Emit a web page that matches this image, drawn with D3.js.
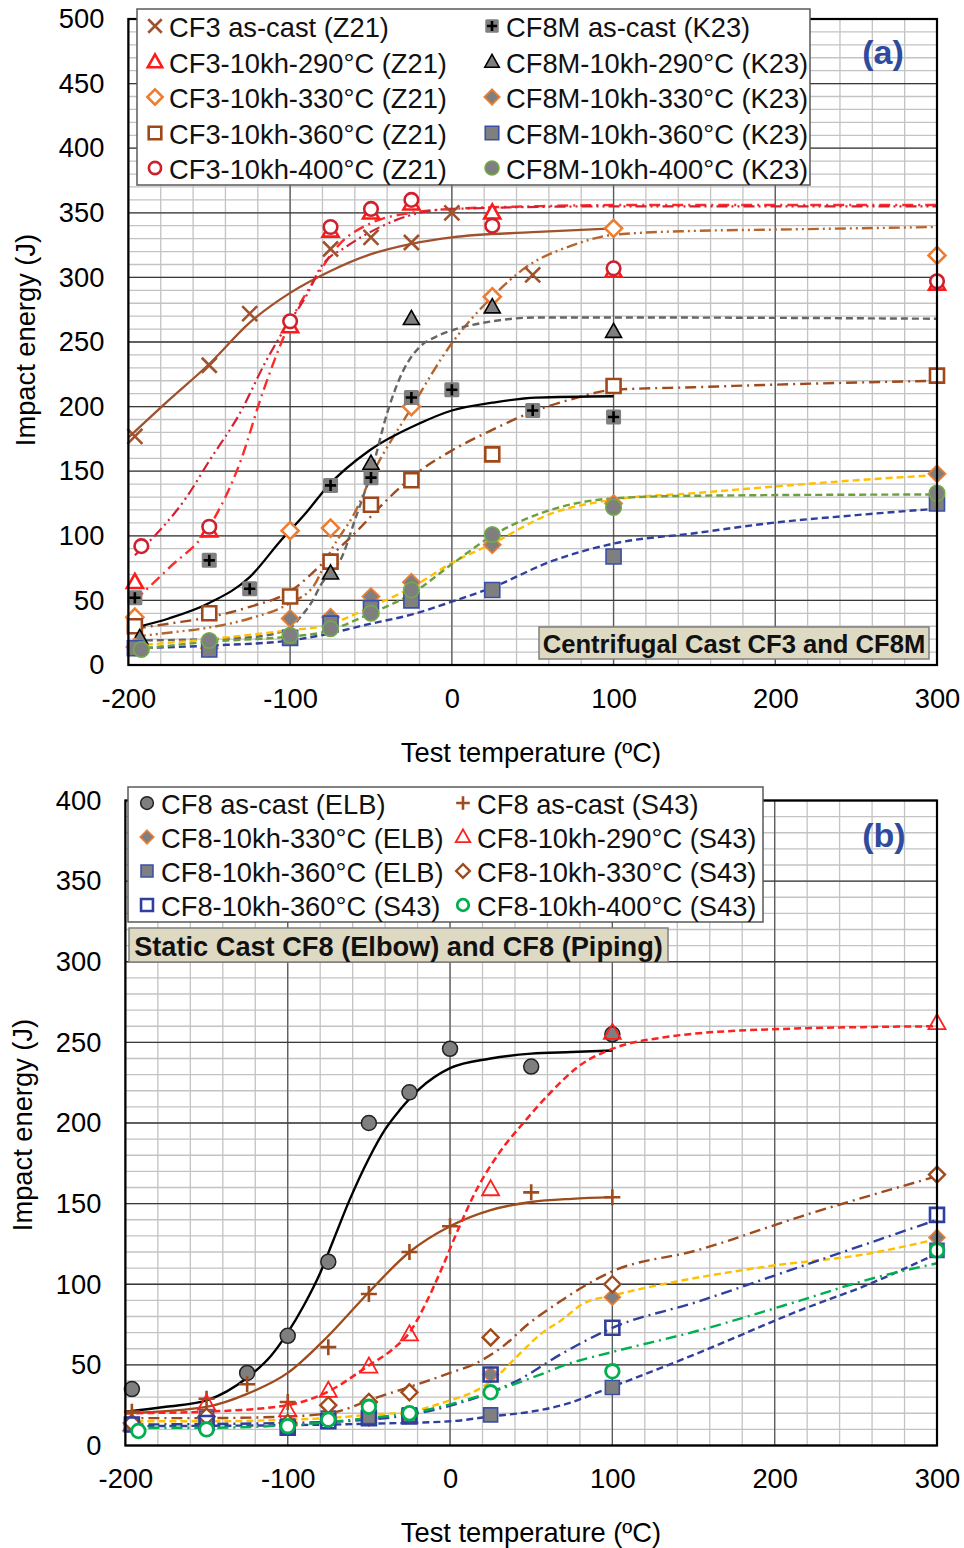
<!DOCTYPE html>
<html>
<head>
<meta charset="utf-8">
<script src="https://cdn.jsdelivr.net/npm/d3@7"></script>
<style>
  body { margin: 0; background: #fff; }
  svg { display: block; }
</style>
</head>
<body>
<svg id="chart" width="964" height="1548"></svg>
<script>
// ---------------- shared axis values ----------------
const tempTicks = [-200, -100, 0, 100, 200, 300];
const energyTicksA = [0, 50, 100, 150, 200, 250, 300, 350, 400, 450, 500];
const energyTicksB = [0, 50, 100, 150, 200, 250, 300, 350, 400];

// ---------------- panel (a): centrifugal cast CF3 / CF8M ----------------
// measured points [temperature °C, impact energy J]
const cf3AsCast = [[-196,177],[-150,232],[-125,272],[-75,322],[-50,331],[-25,327],[0,350],[50,302]];
const cf3Aged290 = [[-196,64],[-150,104],[-100,262],[-75,336],[-50,350],[-25,357],[25,350],[100,305],[300,295]];
const cf3Aged330 = [[-196,37],[-100,104],[-75,106],[-25,200],[25,285],[100,338],[300,317]];
const cf3Aged360 = [[-196,30],[-150,40],[-100,53],[-75,80],[-50,124],[-25,143],[25,163],[100,216],[300,224]];
const cf3Aged400 = [[-192,92],[-150,107],[-100,266],[-75,339],[-50,353],[-25,360],[25,340],[100,307],[300,297]];
const cf8mAsCast = [[-196,52],[-150,81],[-125,59],[-75,139],[-50,145],[-25,207],[0,213],[50,197],[100,192]];
const cf8mAged290 = [[-193,21],[-75,71],[-50,156],[-25,268],[25,277],[100,258]];
const cf8mAged330 = [[-196,14],[-150,13],[-100,36],[-75,37],[-50,53],[-25,64],[25,93],[100,125],[300,148]];
const cf8mAged360 = [[-196,13],[-150,12],[-100,21],[-75,32],[-50,44],[-25,50],[25,58],[100,84],[300,125]];
const cf8mAged400 = [[-192,12],[-150,19],[-100,23],[-75,28],[-50,40],[-25,58],[25,101],[100,122],[300,133]];

// transition-curve fits
const cf3AsCastFit = [[-200,176],[-175,205],[-150,233],[-125,265],[-100,288],[-75,305],[-50,318],[-25,326],[0,331],[50,335],[100,338]];
const cf3Aged290Fit = [[-196,50],[-175,75],[-150,107],[-130,160],[-118,207],[-100,265],[-85,298],[-70,325],[-50,342],[-25,350],[0,353],[50,355],[100,356],[200,356],[300,356]];
const cf3Aged330Fit = [[-196,22],[-175,25],[-150,29],[-125,36],[-100,48],[-85,62],[-75,88],[-60,118],[-49,148],[-26,197],[0,249],[25,285],[46,308],[75,325],[100,333],[150,336],[200,337],[300,339]];
const cf3Aged360Fit = [[-196,28],[-175,32],[-150,37],[-125,45],[-100,57],[-77,82],[-60,102],[-40,128],[-20,150],[0,166],[25,182],[50,196],[75,206],[100,213],[150,215],[200,217],[300,220]];
const cf3Aged400Fit = [[-196,85],[-180,105],[-164,130],[-150,158],[-131,195],[-115,235],[-104,259],[-89,288],[-82,306],[-65,324],[-52,334],[-20,350],[0,353],[100,355],[300,355]];
const cf8mAsCastFit = [[-196,29],[-175,36],[-150,48],[-125,68],[-106,96],[-90,118],[-77,138],[-51,166],[-20,187],[0,197],[25,203],[52,207],[100,208]];
const cf8mAged290Fit = [[-196,19],[-150,20],[-120,22],[-100,29],[-93,38],[-86,50],[-81,62],[-73,74],[-69,81],[-60,112],[-49,153],[-40,195],[-30,228],[-20,246],[-10,254],[0,259],[25,266],[53,269],[100,269],[300,268]];
const cf8mAged330Fit = [[-196,15],[-150,20],[-100,27],[-80,30],[-50,45],[-25,60],[0,79],[25,94],[61,117],[100,128],[150,133],[198,138],[250,143],[300,147]];
const cf8mAged360Fit = [[-196,13],[-150,15],[-100,19],[-81,23],[-50,32],[-25,39],[0,49],[25,60],[61,80],[100,94],[150,102],[198,110],[250,116],[300,121]];
const cf8mAged400Fit = [[-196,12],[-150,18],[-100,22],[-81,25],[-50,40],[-25,55],[0,78],[25,100],[61,120],[100,129],[150,131],[300,132]];

// ---------------- panel (b): static cast CF8 ----------------
const cf8ElbAsCast = [[-196,35],[-125,45],[-100,68],[-75,114],[-50,200],[-25,219],[0,246],[50,235],[100,255]];
const cf8S43AsCast = [[-196,21],[-150,29],[-125,38],[-100,27],[-75,61],[-50,94],[-25,120],[0,136],[50,157],[100,154]];
const cf8S43Aged290 = [[-196,13],[-150,26],[-100,22],[-75,34],[-50,49],[-25,69],[25,159],[100,256],[300,262]];
const cf8ElbAged330 = [[-196,13],[-150,17],[-100,12],[-75,16],[-50,17],[-25,19],[25,44],[100,92],[300,129]];
const cf8S43Aged330 = [[-196,14],[-150,18],[-100,14],[-75,25],[-50,27],[-25,33],[25,67],[100,100],[300,168]];
const cf8ElbAged360 = [[-196,13],[-150,17],[-100,12],[-75,17],[-50,18],[-25,19],[25,19],[100,36],[300,121]];
const cf8S43Aged360 = [[-196,13],[-150,14],[-100,11],[-75,15],[-50,17],[-25,18],[25,44],[100,73],[300,143]];
const cf8S43Aged400 = [[-192,9],[-150,10],[-100,12],[-75,16],[-50,24],[-25,20],[25,33],[100,46],[300,121]];

const cf8ElbAsCastFit = [[-200,21],[-175,24],[-150,28],[-125,42],[-110,56],[-100,70],[-90,87],[-80,107],[-72,127],[-62,152],[-50,178],[-40,196],[-31,208],[-19,221],[0,234],[25,240],[50,243],[75,244],[100,245]];
const cf8S43AsCastFit = [[-200,20],[-150,24],[-125,32],[-100,45],[-76,67],[-51,94],[-25,120],[0,136],[25,146],[50,151],[75,153],[100,154]];
const cf8S43Aged290Fit = [[-200,20],[-150,21],[-100,25],[-74,34],[-51,49],[-35,60],[-25,70],[-15,88],[-5,110],[5,134],[16,158],[30,181],[46,201],[63,220],[79,235],[100,246],[131,253],[195,258],[300,260]];
const cf8ElbAged330Fit = [[-200,15],[-150,15],[-100,16],[-75,17],[-50,19],[-25,21],[0,28],[16,34],[29,43],[41,55],[57,70],[69,78],[82,88],[100,93],[131,100],[195,111],[258,119],[300,128]];
const cf8S43Aged330Fit = [[-200,17],[-150,17],[-100,18],[-75,20],[-66,22],[-50,28],[-17,39],[0,45],[16,51],[32,61],[49,76],[60,84],[100,108],[152,121],[216,142],[300,167]];
const cf8ElbAged360Fit = [[-200,12],[-100,12.6],[-50,13.5],[0,15],[25,18],[50,21],[69,25],[100,36.5],[152,57],[216,84],[258,100],[300,119]];
const cf8S43Aged360Fit = [[-200,13],[-100,14],[-50,16],[-25,19],[8,27],[25,33],[41,40],[69,57],[100,73],[152,89],[216,111],[300,140]];
const cf8S43Aged400Fit = [[-200,11],[-150,11],[-100,12.6],[-50,17],[-25,20],[25,33],[53,43],[74,51],[100,58],[152,71],[216,90],[258,103],[300,113]];

// ---------------- styling ----------------
const FONT = '"Liberation Sans", Arial, sans-serif';
const FS = 27.3;
const GREY = "#7F7F7F";
const DASH = "7,4";
const DASHDOT = "11,5,2,5";
const DASHDOTDOT = "11,4,2,4,2,4";

const seriesA = [
  { label: "CF3 as-cast (Z21)", pts: cf3AsCast, fit: cf3AsCastFit,
    mk: { type: "cross", r: 7.5, stroke: "#A0522D", fill: "none", sw: 2.6 },
    ln: { stroke: "#A0522D", dash: null, sw: 2.3 } },
  { label: "CF3-10kh-290°C (Z21)", pts: cf3Aged290, fit: cf3Aged290Fit,
    mk: { type: "tri", r: 8, stroke: "#FF1A1A", fill: "#fff", sw: 2.6 },
    ln: { stroke: "#FF2A2A", dash: DASHDOT, sw: 2.4 } },
  { label: "CF3-10kh-330°C (Z21)", pts: cf3Aged330, fit: cf3Aged330Fit,
    mk: { type: "diamond", r: 8.5, stroke: "#ED7D31", fill: "#fff", sw: 2.6 },
    ln: { stroke: "#B8652C", dash: DASHDOTDOT, sw: 2.4 } },
  { label: "CF3-10kh-360°C (Z21)", pts: cf3Aged360, fit: cf3Aged360Fit,
    mk: { type: "square", r: 7, stroke: "#A0481A", fill: "#fff", sw: 2.6 },
    ln: { stroke: "#9E4B1E", dash: DASHDOT, sw: 2.4 } },
  { label: "CF3-10kh-400°C (Z21)", pts: cf3Aged400, fit: cf3Aged400Fit,
    mk: { type: "circle", r: 6.8, stroke: "#D0202E", fill: "#fff", sw: 2.6 },
    ln: { stroke: "#D42030", dash: DASHDOTDOT, sw: 2.2 } },
  { label: "CF8M as-cast (K23)", pts: cf8mAsCast, fit: cf8mAsCastFit,
    mk: { type: "plusSquare", r: 7.5, stroke: "#000", fill: GREY, sw: 2.6 },
    ln: { stroke: "#000", dash: null, sw: 2.3 } },
  { label: "CF8M-10kh-290°C (K23)", pts: cf8mAged290, fit: cf8mAged290Fit,
    mk: { type: "tri", r: 8, stroke: "#000", fill: GREY, sw: 1.6 },
    ln: { stroke: "#666", dash: DASH, sw: 2.4 } },
  { label: "CF8M-10kh-330°C (K23)", pts: cf8mAged330, fit: cf8mAged330Fit,
    mk: { type: "diamond", r: 8.5, stroke: "#ED7D31", fill: GREY, sw: 1.8 },
    ln: { stroke: "#FFC000", dash: DASH, sw: 2.4 } },
  { label: "CF8M-10kh-360°C (K23)", pts: cf8mAged360, fit: cf8mAged360Fit,
    mk: { type: "square", r: 7.5, stroke: "#3A4FA8", fill: GREY, sw: 1.6 },
    ln: { stroke: "#2F3F9E", dash: DASH, sw: 2.4 } },
  { label: "CF8M-10kh-400°C (K23)", pts: cf8mAged400, fit: cf8mAged400Fit,
    mk: { type: "circle", r: 7.8, stroke: "#70AD47", fill: GREY, sw: 1.5 },
    ln: { stroke: "#6E9E3E", dash: DASH, sw: 2.4 } }
];

const seriesB = [
  { label: "CF8 as-cast (ELB)", pts: cf8ElbAsCast, fit: cf8ElbAsCastFit,
    mk: { type: "circle", r: 7.5, stroke: "#222", fill: GREY, sw: 1.5 },
    ln: { stroke: "#000", dash: null, sw: 2.4 } },
  { label: "CF8 as-cast (S43)", pts: cf8S43AsCast, fit: cf8S43AsCastFit,
    mk: { type: "plus", r: 8, stroke: "#9E4B1E", fill: "none", sw: 2.6 },
    ln: { stroke: "#9E4B1E", dash: null, sw: 2.3 } },
  { label: "CF8-10kh-330°C (ELB)", pts: cf8ElbAged330, fit: cf8ElbAged330Fit,
    mk: { type: "diamond", r: 8, stroke: "#ED7D31", fill: GREY, sw: 1.6 },
    ln: { stroke: "#FFC000", dash: DASH, sw: 2.4 } },
  { label: "CF8-10kh-290°C (S43)", pts: cf8S43Aged290, fit: cf8S43Aged290Fit,
    mk: { type: "tri", r: 8.5, stroke: "#FF2020", fill: "none", sw: 1.8 },
    ln: { stroke: "#FF2020", dash: DASH, sw: 2.5 } },
  { label: "CF8-10kh-360°C (ELB)", pts: cf8ElbAged360, fit: cf8ElbAged360Fit,
    mk: { type: "square", r: 7, stroke: "#3A4FA8", fill: GREY, sw: 1.6 },
    ln: { stroke: "#2F3F9E", dash: DASH, sw: 2.4 } },
  { label: "CF8-10kh-330°C (S43)", pts: cf8S43Aged330, fit: cf8S43Aged330Fit,
    mk: { type: "diamond", r: 8, stroke: "#9E4B1E", fill: "#fff", sw: 2.4 },
    ln: { stroke: "#9E4B1E", dash: DASHDOT, sw: 2.4 } },
  { label: "CF8-10kh-360°C (S43)", pts: cf8S43Aged360, fit: cf8S43Aged360Fit,
    mk: { type: "square", r: 7, stroke: "#2F3F9E", fill: "none", sw: 2.6 },
    ln: { stroke: "#2F3F9E", dash: DASHDOT, sw: 2.4 } },
  { label: "CF8-10kh-400°C (S43)", pts: cf8S43Aged400, fit: cf8S43Aged400Fit,
    mk: { type: "circle", r: 6.8, stroke: "#00B050", fill: "#fff", sw: 2.8 },
    ln: { stroke: "#00B050", dash: DASHDOT, sw: 2.4 } }
];

// ---------------- drawing helpers ----------------
const svg = d3.select("#chart");

function markerPath(type, r) {
  switch (type) {
    case "cross": return `M${-r},${-r}L${r},${r}M${-r},${r}L${r},${-r}`;
    case "plus": return `M${-r},0H${r}M0,${-r}V${r}`;
    case "tri": return `M0,${-r * 1.05}L${r},${r * 0.72}L${-r},${r * 0.72}Z`;
    case "diamond": return `M0,${-r}L${r},0L0,${r}L${-r},0Z`;
    case "square":
    case "plusSquare": return `M${-r},${-r}H${r}V${r}H${-r}Z`;
  }
  return "";
}

function drawMarker(g, mk, cx, cy, k = 1) {
  const r = mk.r * k;
  if (mk.type === "circle") {
    g.append("circle").attr("cx", cx).attr("cy", cy).attr("r", r)
      .attr("fill", mk.fill).attr("stroke", mk.stroke).attr("stroke-width", mk.sw);
  } else if (mk.type === "plusSquare") {
    g.append("rect").attr("x", cx - r).attr("y", cy - r).attr("width", 2 * r).attr("height", 2 * r)
      .attr("rx", 1.5).attr("fill", mk.fill);
    g.append("path").attr("transform", `translate(${cx},${cy})`)
      .attr("d", markerPath("plus", r * 0.75))
      .attr("stroke", mk.stroke).attr("stroke-width", mk.sw).attr("fill", "none");
  } else {
    g.append("path").attr("transform", `translate(${cx},${cy})`)
      .attr("d", markerPath(mk.type, r))
      .attr("fill", mk.fill).attr("stroke", mk.stroke).attr("stroke-width", mk.sw)
      .attr("stroke-linejoin", "miter");
  }
}

function drawPanel(p) {
  const { x, y } = p;
  const [x0, x1] = x.range();
  const [yb, yt] = y.range();
  const g = svg.append("g");

  // grid: minor then major lines
  const grid = g.append("g");
  const xMinor = d3.range(-200, 301, 20);
  const yMinor = d3.range(0, p.yMax + 1, 10);
  grid.selectAll(".vx").data(xMinor).join("line")
    .attr("x1", d => x(d)).attr("x2", d => x(d)).attr("y1", yt).attr("y2", yb)
    .attr("stroke", "#C3C3C3").attr("stroke-width", 1.3);
  grid.selectAll(".hy").data(yMinor).join("line")
    .attr("x1", x0).attr("x2", x1).attr("y1", d => y(d)).attr("y2", d => y(d))
    .attr("stroke", "#C3C3C3").attr("stroke-width", 1.3);
  grid.selectAll(".VX").data(tempTicks).join("line")
    .attr("x1", d => x(d)).attr("x2", d => x(d)).attr("y1", yt).attr("y2", yb)
    .attr("stroke", "#5A5A5A").attr("stroke-width", 1.3);
  grid.selectAll(".HY").data(p.yTicks).join("line")
    .attr("x1", x0).attr("x2", x1).attr("y1", d => y(d)).attr("y2", d => y(d))
    .attr("stroke", "#3A3A3A").attr("stroke-width", 1.3);

  // fitted curves
  const line = d3.line().x(d => x(d[0])).y(d => y(d[1])).curve(d3.curveMonotoneX);
  p.series.forEach(s => {
    g.append("path").datum(s.fit).attr("d", line)
      .attr("fill", "none").attr("stroke", s.ln.stroke).attr("stroke-width", s.ln.sw)
      .attr("stroke-dasharray", s.ln.dash).attr("stroke-linecap", "butt");
  });

  // measured points
  p.series.forEach(s => {
    const mg = g.append("g");
    s.pts.forEach(d => drawMarker(mg, s.mk, x(d[0]), y(d[1])));
  });

  // plot frame
  g.append("rect").attr("x", x0).attr("y", yt).attr("width", x1 - x0).attr("height", yb - yt)
    .attr("fill", "none").attr("stroke", "#000").attr("stroke-width", 2.2);

  // axes (tick labels only)
  const yAxis = g.append("g").attr("transform", `translate(${x0},0)`)
    .call(d3.axisLeft(y).tickValues(p.yTicks).tickSize(0).tickPadding(p.yPad).tickFormat(d => String(d)));
  const xAxis = g.append("g").attr("transform", `translate(0,${yb})`)
    .call(d3.axisBottom(x).tickValues(tempTicks).tickSize(0).tickPadding(p.xPad).tickFormat(d => String(d)));
  [yAxis, xAxis].forEach(a => {
    a.select(".domain").remove();
    a.selectAll("text").attr("font-family", FONT).attr("font-size", FS).attr("fill", "#000");
  });

  // axis titles
  g.append("text").attr("x", p.xTitle[0]).attr("y", p.xTitle[1])
    .attr("text-anchor", "middle").attr("dominant-baseline", "central")
    .attr("font-family", FONT).attr("font-size", FS).text("Test temperature (ºC)");
  g.append("text").attr("transform", `translate(${p.yTitle[0]},${p.yTitle[1]}) rotate(-90)`)
    .attr("text-anchor", "middle").attr("dominant-baseline", "central")
    .attr("font-family", FONT).attr("font-size", FS).text("Impact energy (J)");

  // caption box
  const c = p.caption;
  g.append("rect").attr("x", c.x).attr("y", c.y).attr("width", c.w).attr("height", c.h)
    .attr("fill", "#DDD9C3").attr("stroke", "#7F7F7F").attr("stroke-width", 1.5);
  g.append("text").attr("x", c.x + c.w / 2).attr("y", c.y + c.h / 2 + 1)
    .attr("text-anchor", "middle").attr("dominant-baseline", "central")
    .attr("font-family", FONT).attr("font-weight", "bold").attr("font-size", c.fs)
    .attr("fill", "#111").text(c.text);

  // legend
  const L = p.legend;
  const lg = g.append("g");
  lg.append("rect").attr("x", L.x).attr("y", L.y).attr("width", L.w).attr("height", L.h)
    .attr("fill", "#fff").attr("stroke", "#595959").attr("stroke-width", 1.5);
  L.order.forEach((idx, i) => {
    const col = Math.floor(i / L.rows), row = i % L.rows;
    const s = p.series[idx];
    const cy = L.rowY[row];
    const mx = L.colX[col];
    drawMarker(lg, s.mk, mx, cy, L.mk);
    lg.append("text").attr("x", mx + L.textDx).attr("y", cy + 1)
      .attr("dominant-baseline", "central")
      .attr("font-family", FONT).attr("font-size", FS).attr("fill", "#111").text(s.label);
  });

  // panel tag
  g.append("text").attr("x", p.tag[0]).attr("y", p.tag[1])
    .attr("text-anchor", "middle").attr("dominant-baseline", "central")
    .attr("font-family", FONT).attr("font-weight", "bold").attr("font-size", 34)
    .attr("fill", "#2E4B9E").text(p.tag[2]);
}

drawPanel({
  x: d3.scaleLinear().domain([-200, 300]).range([128.4, 937]),
  y: d3.scaleLinear().domain([0, 500]).range([665, 19]),
  yMax: 500, yTicks: energyTicksA, yPad: 24, xPad: 24,
  series: seriesA,
  xTitle: [531, 752], yTitle: [25, 340],
  caption: { x: 539, y: 627, w: 390, h: 32, fs: 25.6, text: "Centrifugal Cast CF3 and CF8M" },
  legend: { x: 137, y: 9, w: 673, h: 176, rows: 5, rowY: [26, 62, 97, 133, 168],
            colX: [155, 492], textDx: 14, mk: 0.9, order: [0, 1, 2, 3, 4, 5, 6, 7, 8, 9] },
  tag: [883, 52, "(a)"]
});

drawPanel({
  x: d3.scaleLinear().domain([-200, 300]).range([125.4, 937]),
  y: d3.scaleLinear().domain([0, 400]).range([1445.5, 800.5]),
  yMax: 400, yTicks: energyTicksB, yPad: 24, xPad: 23,
  series: seriesB,
  xTitle: [531, 1532], yTitle: [22, 1125],
  caption: { x: 129, y: 928, w: 539, h: 34, fs: 27.2, text: "Static Cast CF8 (Elbow) and CF8 (Piping)" },
  legend: { x: 128, y: 787, w: 635, h: 135, rows: 4, rowY: [803, 837, 871, 905],
            colX: [147, 463], textDx: 14, mk: 0.85, order: [0, 2, 4, 6, 1, 3, 5, 7] },
  tag: [884, 835, "(b)"]
});
</script>
</body>
</html>
